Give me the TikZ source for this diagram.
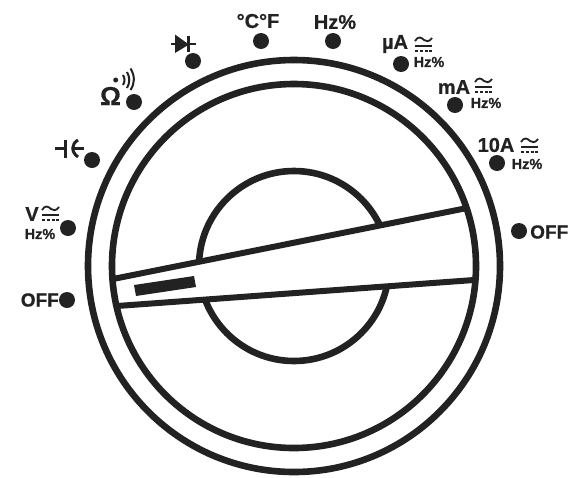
\documentclass[tikz,border=0pt]{standalone}
\usepackage{fontspec}
\setmainfont{Liberation Sans}[BoldFont={Liberation Sans Bold},BoldFeatures={FakeBold=0.6}]
\definecolor{ink}{HTML}{222222}
\newcommand{\fs}[1]{\fontsize{#1}{#1}\selectfont\bfseries}
\tikzset{
  x=1pt,y=-1pt,
  ring/.style={draw=ink,line width=6.6pt,fill=none},
  dot/.style={circle,fill=ink,minimum size=16pt,inner sep=0pt},
  big/.style={text=ink,inner sep=0pt,font=\fs{20}},
  small/.style={text=ink,inner sep=0pt,font=\fs{14.5}},
  sym/.style={draw=ink,line width=2pt},
  pics/acdc/.style={code={
    \draw[sym,line width=1.8pt] (0,4) .. controls (3,-1) and (6,0) .. (9,3) .. controls (11,5) and (14,5) .. (17,1);
    \draw[sym] (0,8.5) -- (17,8.5);
    \draw[sym,dash pattern=on 3.4pt off 1.4pt] (0,14) -- (17.4,14);
  }}
}
\begin{document}
\begin{tikzpicture}
\useasboundingbox (0,0) rectangle (572,477);
\fill[white] (0,0) rectangle (572,477);
\coordinate (c) at (294,266);
\draw[ring] (c) circle[radius=95];
% pointer
\coordinate (pa) at (113,279);
\coordinate (pb) at (467,208);
\coordinate (pc) at (474,280);
\coordinate (pd) at (117,306);
\fill[white] (pa) -- (pb) -- (pc) -- (pd) -- cycle;
\draw[ring] (c) circle[radius=206];
\draw[ring] (c) circle[radius=182];
\draw[ring,line width=6pt] (pa) -- (pb);
\draw[ring,line width=6pt] (pd) -- (pc);
\fill[ink] (134,285) -- (194,276) -- (196,287) -- (136,296) -- cycle;
% dots
\node[dot] (d1) at (67,300) {};
\node[dot] (d2) at (68,228) {};
\node[dot] (d3) at (92,160) {};
\node[dot] (d4) at (134,102) {};
\node[dot] (d5) at (193,61) {};
\node[dot] (d6) at (261,41) {};
\node[dot] (d7) at (333,41) {};
\node[dot] (d8) at (401,64) {};
\node[dot] (d9) at (455,105) {};
\node[dot] (d10) at (497,163) {};
\node[dot] (d11) at (519,231) {};
% labels
\node[big,font=\fs{19},anchor=east] (off1) at (59,300) {OFF};
\node[big,font=\fs{19},anchor=west] (off2) at (530,232) {OFF};
\node[big] (v) at (32,214) {V};
\node[small] (hz1) at (40,234) {Hz\%};
\pic at (42,206) {acdc};
\node[big,font=\fs{26}] (om) at (110.5,96) {Ω};
\fill[ink] (115.7,80) circle[radius=2.5];
\draw[sym] (123,75) .. controls (125,78) and (125,82) .. (123,85);
\draw[sym] (127,72) .. controls (130,77) and (130,83) .. (127,88);
\draw[sym] (130.5,68.5) .. controls (135,76) and (135,83) .. (130.5,90);
\node[big] (cf) at (258,21) {°C°F};
\node[big] (hz2) at (335,22) {Hz\%};
\node[big] (ua) at (395,44) {µA};
\pic at (415,37) {acdc};
\node[small] (hz3) at (429,62) {Hz\%};
\node[big] (ma) at (454,87) {mA};
\pic at (475,78) {acdc};
\node[small] (hz4) at (486,103) {Hz\%};
\node[big] (a10) at (496,145) {10A};
\pic at (521,138) {acdc};
\node[small] (hz5) at (527,164) {Hz\%};
% diode
\fill[ink] (175,34.5) -- (189,44.5) -- (175,53) -- cycle;
\draw[sym,line width=2.6pt] (171,44) -- (196,44);
\draw[sym,line width=2.6pt] (188.5,36) -- (188.5,52);
% capacitor
\draw[sym,line width=3pt] (55,148) -- (65,148);
\draw[sym,line width=3.4pt] (65.5,140) -- (65.5,158);
\draw[sym,line width=3pt] (78,140) .. controls (71,144) and (71,152) .. (78,157);
\draw[sym,line width=3pt] (74,148) -- (84,148);
\end{tikzpicture}
\end{document}
